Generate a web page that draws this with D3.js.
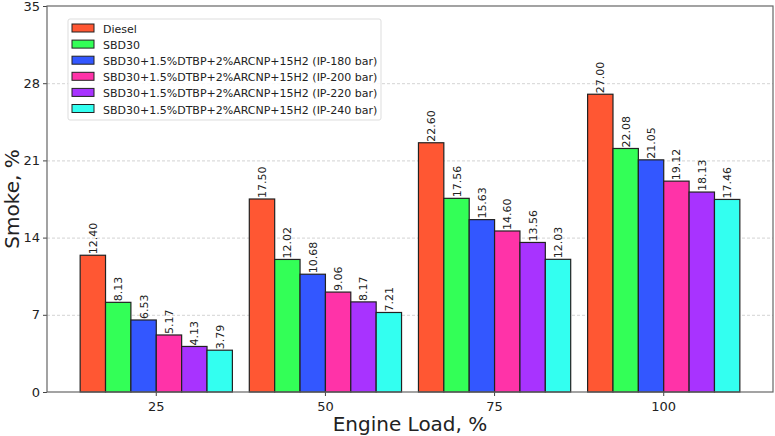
<!DOCTYPE html>
<html>
<head>
<meta charset="utf-8">
<script src="https://cdn.jsdelivr.net/npm/d3@7"></script>
<style>
  body { margin: 0; background: #fff; }
  svg text { font-family: "DejaVu Sans", sans-serif; fill: #222; }
</style>
</head>
<body>
<div id="chart"></div>
<script>
const loads = ["25", "50", "75", "100"];
const seriesNames = [
    "Diesel",
    "SBD30",
    "SBD30+1.5%DTBP+2%ARCNP+15H2 (IP-180 bar)",
    "SBD30+1.5%DTBP+2%ARCNP+15H2 (IP-200 bar)",
    "SBD30+1.5%DTBP+2%ARCNP+15H2 (IP-220 bar)",
    "SBD30+1.5%DTBP+2%ARCNP+15H2 (IP-240 bar)"
];
const diesel = [12.40, 17.50, 22.60, 27.00];
const sbd30 = [8.13, 12.02, 17.56, 22.08];
const ip180 = [6.53, 10.68, 15.63, 21.05];
const ip200 = [5.17, 9.06, 14.60, 19.12];
const ip220 = [4.13, 8.17, 13.56, 18.13];
const ip240 = [3.79, 7.21, 12.03, 17.46];
const yTicks = [0, 7, 14, 21, 28, 35];
const colors = ["#FF5733", "#33FF57", "#3357FF", "#FF33A8", "#A833FF", "#33FFF0"];

const allSeries = [diesel, sbd30, ip180, ip200, ip220, ip240];

const width = 775, height = 436;
const plot = { left: 47, right: 773, top: 6, bottom: 392 };

const svg = d3.select('#chart')
    .append('svg')
    .attr('width', width)
    .attr('height', height);

const xScale = d3.scaleBand()
    .domain(loads)
    .range([plot.left, plot.right])
    .paddingInner(0.1)
    .paddingOuter(0.196);

const xSub = d3.scaleBand()
    .domain(d3.range(seriesNames.length))
    .range([0, xScale.bandwidth()]);

const yScale = d3.scaleLinear()
    .domain([0, 35])
    .range([plot.bottom, plot.top]);

// grid
svg.append('g')
    .selectAll('line')
    .data(yTicks.slice(1, -1))
    .enter()
    .append('line')
    .attr('x1', plot.left)
    .attr('x2', plot.right)
    .attr('y1', d => yScale(d) + 0.5)
    .attr('y2', d => yScale(d) + 0.5)
    .attr('stroke', '#c8c8c8')
    .attr('stroke-width', 0.8)
    .attr('stroke-dasharray', '3,2');

// bars
const groups = svg.append('g')
    .selectAll('g')
    .data(loads)
    .enter()
    .append('g')
    .attr('transform', d => "translate(" + xScale(d) + ",0)");

groups.selectAll('rect')
    .data((d, i) => allSeries.map((s, j) => ({ j: j, v: s[i] })))
    .enter()
    .append('rect')
    .attr('x', d => xSub(d.j))
    .attr('y', d => yScale(d.v))
    .attr('width', xSub.bandwidth())
    .attr('height', d => plot.bottom - yScale(d.v))
    .attr('fill', d => colors[d.j])
    .attr('stroke', '#222')
    .attr('stroke-width', 1.2);

groups.selectAll('text')
    .data((d, i) => allSeries.map((s, j) => ({ j: j, v: s[i] })))
    .enter()
    .append('text')
    .attr('transform', d => "translate(" + (xSub(d.j) + xSub.bandwidth() / 2 + 4) + "," + (yScale(d.v) - 1) + ") rotate(-90)")
    .attr('font-size', 11)
    .text(d => d.v.toFixed(2));

// axes
const xAxis = d3.axisBottom(xScale).tickSizeOuter(0).tickSize(4);
svg.append('g')
    .attr('transform', "translate(0," + plot.bottom + ")")
    .call(xAxis)
    .call(g => g.select('.domain').remove())
    .call(g => g.selectAll('line').attr('stroke', '#444'))
    .call(g => g.selectAll('text').attr('font-size', 13).attr('dy', '0.9em').style('font-family', '"DejaVu Sans", sans-serif').attr('fill', '#222'));

const yAxis = d3.axisLeft(yScale).tickValues(yTicks).tickSize(4).tickSizeOuter(0);
svg.append('g')
    .attr('transform', "translate(" + plot.left + ",0)")
    .call(yAxis)
    .call(g => g.select('.domain').remove())
    .call(g => g.selectAll('line').attr('stroke', '#444'))
    .call(g => g.selectAll('text').attr('font-size', 13).style('font-family', '"DejaVu Sans", sans-serif').attr('fill', '#222'));

// frame
svg.append('rect')
    .attr('x', plot.left)
    .attr('y', plot.top)
    .attr('width', plot.right - plot.left)
    .attr('height', plot.bottom - plot.top)
    .attr('fill', 'none')
    .attr('stroke', '#666')
    .attr('stroke-width', 1.2);

svg.append('text')
    .attr('x', (plot.left + plot.right) / 2)
    .attr('y', 431)
    .attr('text-anchor', 'middle')
    .attr('font-size', 20)
    .text('Engine Load, %');

svg.append('text')
    .attr('transform', "translate(19," + ((plot.top + plot.bottom) / 2) + ") rotate(-90)")
    .attr('text-anchor', 'middle')
    .attr('font-size', 20)
    .text('Smoke, %');

// legend
const legend = svg.append('g')
    .attr('transform', "translate(68,19)");

legend.append('rect')
    .attr('width', 313)
    .attr('height', 101)
    .attr('rx', 2)
    .attr('fill', 'rgba(255,255,255,0.85)')
    .attr('stroke', '#ddd');

const items = legend.selectAll('g.item')
    .data(seriesNames)
    .enter()
    .append('g')
    .attr('class', 'item')
    .attr('transform', (d, i) => "translate(4," + (4 + i * 16.1) + ")");

items.append('rect')
    .attr('width', 22)
    .attr('height', 8)
    .attr('y', 1)
    .attr('fill', (d, i) => colors[i])
    .attr('stroke', '#222')
    .attr('stroke-width', 1);

items.append('text')
    .attr('x', 31)
    .attr('y', 10)
    .attr('font-size', 11)
    .text(d => d);
</script>
</body>
</html>
